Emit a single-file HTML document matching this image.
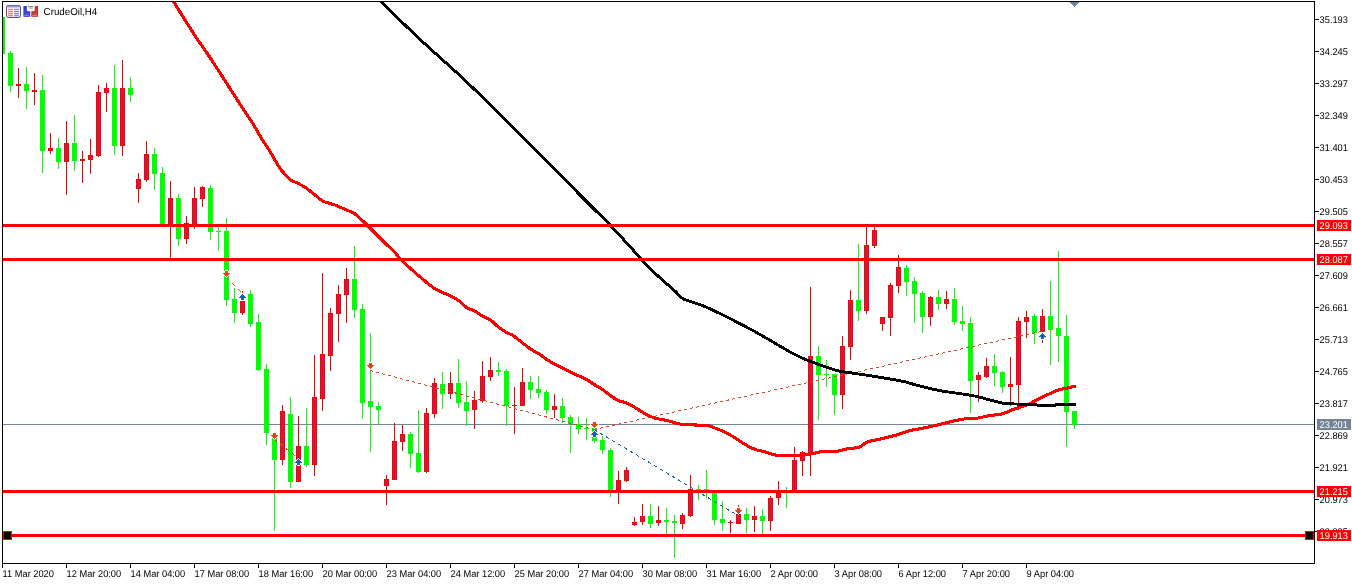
<!DOCTYPE html>
<html><head><meta charset="utf-8"><title>CrudeOil,H4</title>
<style>
html,body{margin:0;padding:0;background:#fff;}
body{width:1352px;height:584px;overflow:hidden;font-family:"Liberation Sans",sans-serif;}
svg{display:block;position:absolute;left:0;top:0;will-change:transform;}
.ax{font-family:"Liberation Sans",sans-serif;font-size:9.8px;text-rendering:geometricPrecision;}
.tt{font-family:"Liberation Sans",sans-serif;font-size:10px;text-rendering:geometricPrecision;}
</style></head><body>
<svg width="1352" height="584" viewBox="0 0 1352 584">
<rect x="0" y="0" width="1352" height="584" fill="#fff"/>
<defs><clipPath id="cp"><rect x="3" y="2" width="1311" height="561"/></clipPath></defs>
<g clip-path="url(#cp)">
<!-- bid line -->
<rect x="3" y="424" width="1311" height="1" fill="#738499" shape-rendering="crispEdges"/>
<g shape-rendering="crispEdges">
<rect x="3" y="17" width="2" height="37" fill="#00ff00"/>
<rect x="10" y="51" width="1" height="41" fill="#00ff00"/>
<rect x="8" y="53" width="5" height="33" fill="#00ff00"/>
<rect x="18" y="68" width="1" height="30" fill="#ff0000"/>
<rect x="16" y="84" width="5" height="2" fill="#ff0000"/>
<rect x="26" y="67" width="1" height="42" fill="#00ff00"/>
<rect x="24" y="84" width="5" height="7" fill="#00ff00"/>
<rect x="34" y="73" width="1" height="32" fill="#ff0000"/>
<rect x="32" y="90" width="5" height="2" fill="#ff0000"/>
<rect x="42" y="75" width="1" height="98" fill="#00ff00"/>
<rect x="40" y="90" width="5" height="61" fill="#00ff00"/>
<rect x="50" y="133" width="1" height="21" fill="#ff0000"/>
<rect x="48" y="148" width="5" height="3" fill="#ff0000"/>
<rect x="49" y="149" width="3" height="1" fill="#dc143c"/>
<rect x="58" y="138" width="1" height="31" fill="#00ff00"/>
<rect x="56" y="148" width="5" height="14" fill="#00ff00"/>
<rect x="66" y="121" width="1" height="74" fill="#ff0000"/>
<rect x="64" y="143" width="5" height="19" fill="#ff0000"/>
<rect x="65" y="144" width="3" height="17" fill="#dc143c"/>
<rect x="74" y="115" width="1" height="56" fill="#00ff00"/>
<rect x="72" y="143" width="5" height="18" fill="#00ff00"/>
<rect x="82" y="151" width="1" height="32" fill="#ff0000"/>
<rect x="80" y="159" width="5" height="2" fill="#ff0000"/>
<rect x="90" y="139" width="1" height="35" fill="#ff0000"/>
<rect x="88" y="155" width="5" height="5" fill="#ff0000"/>
<rect x="89" y="156" width="3" height="3" fill="#dc143c"/>
<rect x="98" y="85" width="1" height="72" fill="#ff0000"/>
<rect x="96" y="92" width="5" height="64" fill="#ff0000"/>
<rect x="97" y="93" width="3" height="62" fill="#dc143c"/>
<rect x="106" y="83" width="1" height="29" fill="#ff0000"/>
<rect x="104" y="88" width="5" height="5" fill="#ff0000"/>
<rect x="105" y="89" width="3" height="3" fill="#dc143c"/>
<rect x="114" y="65" width="1" height="90" fill="#00ff00"/>
<rect x="112" y="88" width="5" height="58" fill="#00ff00"/>
<rect x="122" y="60" width="1" height="96" fill="#ff0000"/>
<rect x="120" y="88" width="5" height="58" fill="#ff0000"/>
<rect x="121" y="89" width="3" height="56" fill="#dc143c"/>
<rect x="130" y="77" width="1" height="25" fill="#00ff00"/>
<rect x="128" y="88" width="5" height="7" fill="#00ff00"/>
<rect x="138" y="173" width="1" height="30" fill="#ff0000"/>
<rect x="136" y="179" width="5" height="10" fill="#ff0000"/>
<rect x="137" y="180" width="3" height="8" fill="#dc143c"/>
<rect x="146" y="141" width="1" height="41" fill="#ff0000"/>
<rect x="144" y="154" width="5" height="26" fill="#ff0000"/>
<rect x="145" y="155" width="3" height="24" fill="#dc143c"/>
<rect x="154" y="148" width="1" height="42" fill="#00ff00"/>
<rect x="152" y="154" width="5" height="20" fill="#00ff00"/>
<rect x="162" y="167" width="1" height="58" fill="#00ff00"/>
<rect x="160" y="173" width="5" height="52" fill="#00ff00"/>
<rect x="170" y="181" width="1" height="77" fill="#ff0000"/>
<rect x="168" y="198" width="5" height="27" fill="#ff0000"/>
<rect x="169" y="199" width="3" height="25" fill="#dc143c"/>
<rect x="178" y="194" width="1" height="52" fill="#00ff00"/>
<rect x="176" y="198" width="5" height="41" fill="#00ff00"/>
<rect x="186" y="216" width="1" height="28" fill="#ff0000"/>
<rect x="184" y="223" width="5" height="16" fill="#ff0000"/>
<rect x="185" y="224" width="3" height="14" fill="#dc143c"/>
<rect x="194" y="187" width="1" height="42" fill="#ff0000"/>
<rect x="192" y="198" width="5" height="27" fill="#ff0000"/>
<rect x="193" y="199" width="3" height="25" fill="#dc143c"/>
<rect x="202" y="186" width="1" height="21" fill="#ff0000"/>
<rect x="200" y="187" width="5" height="12" fill="#ff0000"/>
<rect x="201" y="188" width="3" height="10" fill="#dc143c"/>
<rect x="210" y="185" width="1" height="55" fill="#00ff00"/>
<rect x="208" y="188" width="5" height="44" fill="#00ff00"/>
<rect x="218" y="227" width="1" height="24" fill="#00ff00"/>
<rect x="216" y="231" width="5" height="1" fill="#00ff00"/>
<rect x="226" y="218" width="1" height="88" fill="#00ff00"/>
<rect x="224" y="231" width="5" height="69" fill="#00ff00"/>
<rect x="234" y="288" width="1" height="35" fill="#00ff00"/>
<rect x="232" y="299" width="5" height="14" fill="#00ff00"/>
<rect x="242" y="291" width="1" height="24" fill="#ff0000"/>
<rect x="240" y="301" width="5" height="12" fill="#ff0000"/>
<rect x="241" y="302" width="3" height="10" fill="#dc143c"/>
<rect x="250" y="290" width="1" height="37" fill="#00ff00"/>
<rect x="248" y="294" width="5" height="30" fill="#00ff00"/>
<rect x="258" y="314" width="1" height="57" fill="#00ff00"/>
<rect x="256" y="322" width="5" height="48" fill="#00ff00"/>
<rect x="266" y="364" width="1" height="81" fill="#00ff00"/>
<rect x="264" y="369" width="5" height="64" fill="#00ff00"/>
<rect x="274" y="433" width="1" height="98" fill="#00ff00"/>
<rect x="272" y="438" width="5" height="22" fill="#00ff00"/>
<rect x="282" y="405" width="1" height="60" fill="#ff0000"/>
<rect x="280" y="411" width="5" height="49" fill="#ff0000"/>
<rect x="281" y="412" width="3" height="47" fill="#dc143c"/>
<rect x="290" y="397" width="1" height="91" fill="#00ff00"/>
<rect x="288" y="414" width="5" height="68" fill="#00ff00"/>
<rect x="298" y="416" width="1" height="66" fill="#ff0000"/>
<rect x="296" y="446" width="5" height="36" fill="#ff0000"/>
<rect x="297" y="447" width="3" height="34" fill="#dc143c"/>
<rect x="306" y="408" width="1" height="59" fill="#00ff00"/>
<rect x="304" y="446" width="5" height="19" fill="#00ff00"/>
<rect x="314" y="355" width="1" height="121" fill="#ff0000"/>
<rect x="312" y="397" width="5" height="68" fill="#ff0000"/>
<rect x="313" y="398" width="3" height="66" fill="#dc143c"/>
<rect x="322" y="273" width="1" height="138" fill="#ff0000"/>
<rect x="320" y="354" width="5" height="45" fill="#ff0000"/>
<rect x="321" y="355" width="3" height="43" fill="#dc143c"/>
<rect x="330" y="308" width="1" height="63" fill="#ff0000"/>
<rect x="328" y="313" width="5" height="43" fill="#ff0000"/>
<rect x="329" y="314" width="3" height="41" fill="#dc143c"/>
<rect x="338" y="285" width="1" height="57" fill="#ff0000"/>
<rect x="336" y="294" width="5" height="20" fill="#ff0000"/>
<rect x="337" y="295" width="3" height="18" fill="#dc143c"/>
<rect x="346" y="268" width="1" height="55" fill="#ff0000"/>
<rect x="344" y="279" width="5" height="16" fill="#ff0000"/>
<rect x="345" y="280" width="3" height="14" fill="#dc143c"/>
<rect x="354" y="246" width="1" height="72" fill="#00ff00"/>
<rect x="352" y="279" width="5" height="31" fill="#00ff00"/>
<rect x="362" y="304" width="1" height="115" fill="#00ff00"/>
<rect x="360" y="309" width="5" height="94" fill="#00ff00"/>
<rect x="370" y="333" width="1" height="119" fill="#00ff00"/>
<rect x="368" y="401" width="5" height="6" fill="#00ff00"/>
<rect x="378" y="402" width="1" height="22" fill="#00ff00"/>
<rect x="376" y="406" width="5" height="4" fill="#00ff00"/>
<rect x="386" y="475" width="1" height="30" fill="#ff0000"/>
<rect x="384" y="479" width="5" height="7" fill="#ff0000"/>
<rect x="385" y="480" width="3" height="5" fill="#dc143c"/>
<rect x="394" y="423" width="1" height="57" fill="#ff0000"/>
<rect x="392" y="441" width="5" height="39" fill="#ff0000"/>
<rect x="393" y="442" width="3" height="37" fill="#dc143c"/>
<rect x="402" y="425" width="1" height="26" fill="#ff0000"/>
<rect x="400" y="434" width="5" height="8" fill="#ff0000"/>
<rect x="401" y="435" width="3" height="6" fill="#dc143c"/>
<rect x="410" y="432" width="1" height="36" fill="#00ff00"/>
<rect x="408" y="434" width="5" height="20" fill="#00ff00"/>
<rect x="418" y="410" width="1" height="63" fill="#00ff00"/>
<rect x="416" y="453" width="5" height="19" fill="#00ff00"/>
<rect x="426" y="408" width="1" height="65" fill="#ff0000"/>
<rect x="424" y="413" width="5" height="59" fill="#ff0000"/>
<rect x="425" y="414" width="3" height="57" fill="#dc143c"/>
<rect x="434" y="378" width="1" height="40" fill="#ff0000"/>
<rect x="432" y="383" width="5" height="31" fill="#ff0000"/>
<rect x="433" y="384" width="3" height="29" fill="#dc143c"/>
<rect x="442" y="372" width="1" height="37" fill="#00ff00"/>
<rect x="440" y="384" width="5" height="10" fill="#00ff00"/>
<rect x="450" y="372" width="1" height="27" fill="#ff0000"/>
<rect x="448" y="383" width="5" height="11" fill="#ff0000"/>
<rect x="449" y="384" width="3" height="9" fill="#dc143c"/>
<rect x="458" y="359" width="1" height="49" fill="#00ff00"/>
<rect x="456" y="383" width="5" height="20" fill="#00ff00"/>
<rect x="466" y="381" width="1" height="45" fill="#00ff00"/>
<rect x="464" y="402" width="5" height="9" fill="#00ff00"/>
<rect x="474" y="391" width="1" height="38" fill="#ff0000"/>
<rect x="472" y="400" width="5" height="10" fill="#ff0000"/>
<rect x="473" y="401" width="3" height="8" fill="#dc143c"/>
<rect x="482" y="361" width="1" height="42" fill="#ff0000"/>
<rect x="480" y="376" width="5" height="25" fill="#ff0000"/>
<rect x="481" y="377" width="3" height="23" fill="#dc143c"/>
<rect x="490" y="357" width="1" height="24" fill="#ff0000"/>
<rect x="488" y="370" width="5" height="7" fill="#ff0000"/>
<rect x="489" y="371" width="3" height="5" fill="#dc143c"/>
<rect x="498" y="362" width="1" height="14" fill="#00ff00"/>
<rect x="496" y="370" width="5" height="2" fill="#00ff00"/>
<rect x="506" y="369" width="1" height="57" fill="#00ff00"/>
<rect x="504" y="371" width="5" height="35" fill="#00ff00"/>
<rect x="514" y="387" width="1" height="47" fill="#ff0000"/>
<rect x="512" y="405" width="5" height="1" fill="#ff0000"/>
<rect x="522" y="368" width="1" height="38" fill="#ff0000"/>
<rect x="520" y="382" width="5" height="24" fill="#ff0000"/>
<rect x="521" y="383" width="3" height="22" fill="#dc143c"/>
<rect x="530" y="376" width="1" height="23" fill="#00ff00"/>
<rect x="528" y="382" width="5" height="8" fill="#00ff00"/>
<rect x="538" y="376" width="1" height="22" fill="#00ff00"/>
<rect x="536" y="389" width="5" height="4" fill="#00ff00"/>
<rect x="546" y="390" width="1" height="24" fill="#00ff00"/>
<rect x="544" y="392" width="5" height="18" fill="#00ff00"/>
<rect x="554" y="394" width="1" height="24" fill="#ff0000"/>
<rect x="552" y="406" width="5" height="4" fill="#ff0000"/>
<rect x="553" y="407" width="3" height="2" fill="#dc143c"/>
<rect x="562" y="398" width="1" height="25" fill="#00ff00"/>
<rect x="560" y="406" width="5" height="12" fill="#00ff00"/>
<rect x="570" y="415" width="1" height="38" fill="#00ff00"/>
<rect x="568" y="417" width="5" height="7" fill="#00ff00"/>
<rect x="578" y="417" width="1" height="17" fill="#00ff00"/>
<rect x="576" y="424" width="5" height="5" fill="#00ff00"/>
<rect x="586" y="418" width="1" height="22" fill="#00ff00"/>
<rect x="584" y="428" width="5" height="1" fill="#00ff00"/>
<rect x="594" y="426" width="1" height="17" fill="#00ff00"/>
<rect x="592" y="428" width="5" height="13" fill="#00ff00"/>
<rect x="602" y="436" width="1" height="18" fill="#00ff00"/>
<rect x="600" y="440" width="5" height="10" fill="#00ff00"/>
<rect x="610" y="448" width="1" height="49" fill="#00ff00"/>
<rect x="608" y="450" width="5" height="41" fill="#00ff00"/>
<rect x="618" y="471" width="1" height="33" fill="#ff0000"/>
<rect x="616" y="480" width="5" height="11" fill="#ff0000"/>
<rect x="617" y="481" width="3" height="9" fill="#dc143c"/>
<rect x="626" y="467" width="1" height="15" fill="#ff0000"/>
<rect x="624" y="470" width="5" height="11" fill="#ff0000"/>
<rect x="625" y="471" width="3" height="9" fill="#dc143c"/>
<rect x="634" y="517" width="1" height="9" fill="#ff0000"/>
<rect x="632" y="522" width="5" height="3" fill="#ff0000"/>
<rect x="633" y="523" width="3" height="1" fill="#dc143c"/>
<rect x="642" y="504" width="1" height="21" fill="#ff0000"/>
<rect x="640" y="516" width="5" height="6" fill="#ff0000"/>
<rect x="641" y="517" width="3" height="4" fill="#dc143c"/>
<rect x="650" y="504" width="1" height="24" fill="#00ff00"/>
<rect x="648" y="516" width="5" height="8" fill="#00ff00"/>
<rect x="658" y="506" width="1" height="20" fill="#ff0000"/>
<rect x="656" y="520" width="5" height="3" fill="#ff0000"/>
<rect x="657" y="521" width="3" height="1" fill="#dc143c"/>
<rect x="666" y="508" width="1" height="30" fill="#00ff00"/>
<rect x="664" y="520" width="5" height="2" fill="#00ff00"/>
<rect x="674" y="515" width="1" height="43" fill="#00ff00"/>
<rect x="672" y="521" width="5" height="2" fill="#00ff00"/>
<rect x="682" y="513" width="1" height="16" fill="#ff0000"/>
<rect x="680" y="515" width="5" height="9" fill="#ff0000"/>
<rect x="681" y="516" width="3" height="7" fill="#dc143c"/>
<rect x="690" y="475" width="1" height="42" fill="#ff0000"/>
<rect x="688" y="489" width="5" height="27" fill="#ff0000"/>
<rect x="689" y="490" width="3" height="25" fill="#dc143c"/>
<rect x="698" y="485" width="1" height="15" fill="#00ff00"/>
<rect x="696" y="489" width="5" height="2" fill="#00ff00"/>
<rect x="706" y="470" width="1" height="28" fill="#00ff00"/>
<rect x="704" y="489" width="5" height="2" fill="#00ff00"/>
<rect x="714" y="492" width="1" height="33" fill="#00ff00"/>
<rect x="712" y="492" width="5" height="28" fill="#00ff00"/>
<rect x="722" y="501" width="1" height="30" fill="#00ff00"/>
<rect x="720" y="519" width="5" height="4" fill="#00ff00"/>
<rect x="730" y="520" width="1" height="13" fill="#ff0000"/>
<rect x="728" y="522" width="5" height="1" fill="#ff0000"/>
<rect x="738" y="505" width="1" height="19" fill="#ff0000"/>
<rect x="736" y="514" width="5" height="10" fill="#ff0000"/>
<rect x="737" y="515" width="3" height="8" fill="#dc143c"/>
<rect x="746" y="508" width="1" height="25" fill="#00ff00"/>
<rect x="744" y="514" width="5" height="6" fill="#00ff00"/>
<rect x="754" y="506" width="1" height="26" fill="#ff0000"/>
<rect x="752" y="516" width="5" height="4" fill="#ff0000"/>
<rect x="753" y="517" width="3" height="2" fill="#dc143c"/>
<rect x="762" y="509" width="1" height="25" fill="#00ff00"/>
<rect x="760" y="516" width="5" height="5" fill="#00ff00"/>
<rect x="770" y="496" width="1" height="35" fill="#ff0000"/>
<rect x="768" y="498" width="5" height="23" fill="#ff0000"/>
<rect x="769" y="499" width="3" height="21" fill="#dc143c"/>
<rect x="778" y="481" width="1" height="24" fill="#ff0000"/>
<rect x="776" y="490" width="5" height="8" fill="#ff0000"/>
<rect x="777" y="491" width="3" height="6" fill="#dc143c"/>
<rect x="786" y="487" width="1" height="21" fill="#00ff00"/>
<rect x="784" y="490" width="5" height="2" fill="#00ff00"/>
<rect x="794" y="447" width="1" height="44" fill="#ff0000"/>
<rect x="792" y="460" width="5" height="31" fill="#ff0000"/>
<rect x="793" y="461" width="3" height="29" fill="#dc143c"/>
<rect x="802" y="451" width="1" height="25" fill="#ff0000"/>
<rect x="800" y="452" width="5" height="9" fill="#ff0000"/>
<rect x="801" y="453" width="3" height="7" fill="#dc143c"/>
<rect x="810" y="287" width="1" height="189" fill="#ff0000"/>
<rect x="808" y="356" width="5" height="98" fill="#ff0000"/>
<rect x="809" y="357" width="3" height="96" fill="#dc143c"/>
<rect x="818" y="346" width="1" height="74" fill="#00ff00"/>
<rect x="816" y="356" width="5" height="19" fill="#00ff00"/>
<rect x="826" y="360" width="1" height="27" fill="#00ff00"/>
<rect x="824" y="374" width="5" height="1" fill="#00ff00"/>
<rect x="834" y="374" width="1" height="41" fill="#00ff00"/>
<rect x="832" y="374" width="5" height="21" fill="#00ff00"/>
<rect x="842" y="336" width="1" height="73" fill="#ff0000"/>
<rect x="840" y="346" width="5" height="49" fill="#ff0000"/>
<rect x="841" y="347" width="3" height="47" fill="#dc143c"/>
<rect x="850" y="290" width="1" height="70" fill="#ff0000"/>
<rect x="848" y="300" width="5" height="47" fill="#ff0000"/>
<rect x="849" y="301" width="3" height="45" fill="#dc143c"/>
<rect x="858" y="244" width="1" height="77" fill="#00ff00"/>
<rect x="856" y="300" width="5" height="11" fill="#00ff00"/>
<rect x="866" y="227" width="1" height="87" fill="#ff0000"/>
<rect x="864" y="245" width="5" height="66" fill="#ff0000"/>
<rect x="865" y="246" width="3" height="64" fill="#dc143c"/>
<rect x="874" y="227" width="1" height="21" fill="#ff0000"/>
<rect x="872" y="230" width="5" height="16" fill="#ff0000"/>
<rect x="873" y="231" width="3" height="14" fill="#dc143c"/>
<rect x="882" y="317" width="1" height="14" fill="#ff0000"/>
<rect x="880" y="317" width="5" height="7" fill="#ff0000"/>
<rect x="881" y="318" width="3" height="5" fill="#dc143c"/>
<rect x="890" y="283" width="1" height="53" fill="#ff0000"/>
<rect x="888" y="285" width="5" height="33" fill="#ff0000"/>
<rect x="889" y="286" width="3" height="31" fill="#dc143c"/>
<rect x="898" y="255" width="1" height="38" fill="#ff0000"/>
<rect x="896" y="267" width="5" height="19" fill="#ff0000"/>
<rect x="897" y="268" width="3" height="17" fill="#dc143c"/>
<rect x="906" y="265" width="1" height="31" fill="#00ff00"/>
<rect x="904" y="268" width="5" height="14" fill="#00ff00"/>
<rect x="914" y="277" width="1" height="46" fill="#00ff00"/>
<rect x="912" y="281" width="5" height="13" fill="#00ff00"/>
<rect x="922" y="291" width="1" height="42" fill="#00ff00"/>
<rect x="920" y="293" width="5" height="24" fill="#00ff00"/>
<rect x="930" y="296" width="1" height="30" fill="#ff0000"/>
<rect x="928" y="297" width="5" height="20" fill="#ff0000"/>
<rect x="929" y="298" width="3" height="18" fill="#dc143c"/>
<rect x="938" y="290" width="1" height="20" fill="#00ff00"/>
<rect x="936" y="297" width="5" height="7" fill="#00ff00"/>
<rect x="946" y="291" width="1" height="18" fill="#ff0000"/>
<rect x="944" y="299" width="5" height="5" fill="#ff0000"/>
<rect x="945" y="300" width="3" height="3" fill="#dc143c"/>
<rect x="954" y="288" width="1" height="37" fill="#00ff00"/>
<rect x="952" y="299" width="5" height="23" fill="#00ff00"/>
<rect x="962" y="306" width="1" height="25" fill="#00ff00"/>
<rect x="960" y="321" width="5" height="3" fill="#00ff00"/>
<rect x="970" y="317" width="1" height="96" fill="#00ff00"/>
<rect x="968" y="323" width="5" height="58" fill="#00ff00"/>
<rect x="978" y="372" width="1" height="30" fill="#ff0000"/>
<rect x="976" y="375" width="5" height="5" fill="#ff0000"/>
<rect x="977" y="376" width="3" height="3" fill="#dc143c"/>
<rect x="986" y="358" width="1" height="20" fill="#ff0000"/>
<rect x="984" y="366" width="5" height="11" fill="#ff0000"/>
<rect x="985" y="367" width="3" height="9" fill="#dc143c"/>
<rect x="994" y="354" width="1" height="32" fill="#00ff00"/>
<rect x="992" y="366" width="5" height="7" fill="#00ff00"/>
<rect x="1002" y="371" width="1" height="22" fill="#00ff00"/>
<rect x="1000" y="372" width="5" height="15" fill="#00ff00"/>
<rect x="1010" y="357" width="1" height="49" fill="#ff0000"/>
<rect x="1008" y="384" width="5" height="3" fill="#ff0000"/>
<rect x="1009" y="385" width="3" height="1" fill="#dc143c"/>
<rect x="1018" y="317" width="1" height="93" fill="#ff0000"/>
<rect x="1016" y="321" width="5" height="64" fill="#ff0000"/>
<rect x="1017" y="322" width="3" height="62" fill="#dc143c"/>
<rect x="1026" y="311" width="1" height="27" fill="#ff0000"/>
<rect x="1024" y="317" width="5" height="5" fill="#ff0000"/>
<rect x="1025" y="318" width="3" height="3" fill="#dc143c"/>
<rect x="1034" y="314" width="1" height="30" fill="#00ff00"/>
<rect x="1032" y="316" width="5" height="17" fill="#00ff00"/>
<rect x="1042" y="309" width="1" height="34" fill="#ff0000"/>
<rect x="1040" y="316" width="5" height="16" fill="#ff0000"/>
<rect x="1041" y="317" width="3" height="14" fill="#dc143c"/>
<rect x="1050" y="281" width="1" height="84" fill="#00ff00"/>
<rect x="1048" y="316" width="5" height="14" fill="#00ff00"/>
<rect x="1058" y="251" width="1" height="111" fill="#00ff00"/>
<rect x="1056" y="328" width="5" height="8" fill="#00ff00"/>
<rect x="1066" y="315" width="1" height="132" fill="#00ff00"/>
<rect x="1064" y="336" width="5" height="76" fill="#00ff00"/>
<rect x="1074" y="411" width="1" height="18" fill="#00ff00"/>
<rect x="1072" y="411" width="5" height="14" fill="#00ff00"/>
</g>
<!-- trade lines -->
<g fill="none" stroke-width="1" shape-rendering="crispEdges">
<line x1="226" y1="277" x2="242" y2="293" stroke="#e0441c" stroke-dasharray="4.2,4.2"/>
<line x1="274" y1="439" x2="298" y2="458" stroke="#e0441c" stroke-dasharray="3.8,3.8"/>
<line x1="370" y1="370.5" x2="594" y2="429.5" stroke="#e0441c" stroke-dasharray="3.1,3.1"/>
<line x1="594" y1="429.5" x2="1041" y2="331.5" stroke="#e0441c" stroke-dasharray="3.07,3.07"/>
<line x1="594" y1="429.5" x2="737" y2="515" stroke="#1560b0" stroke-dasharray="3.5,3.5"/>
</g>
<!-- moving averages -->
<path d="M171.2,-2C171.62,-1.35 171.45,-1.77 173.75,1.9C176.05,5.57 181.25,14.07 185,20C188.75,25.93 192.50,31.88 196.25,37.5C200.00,43.12 203.64,48.02 207.5,53.75C211.36,59.48 215.44,65.78 219.4,71.9C223.36,78.03 227.40,84.48 231.25,90.5C235.10,96.52 238.96,102.58 242.5,108C246.04,113.42 249.17,117.67 252.5,123C255.83,128.33 259.79,135.60 262.5,140C265.21,144.40 266.67,146.07 268.75,149.4C270.83,152.73 272.92,156.57 275,160C277.08,163.43 278.75,166.77 281.25,170C283.75,173.23 287.29,177.22 290,179.4C292.71,181.58 294.79,181.65 297.5,183.1C300.21,184.55 303.33,186.12 306.25,188.1C309.17,190.08 312.19,192.81 315,195C317.81,197.19 319.77,199.58 323.1,201.25C326.43,202.92 331.35,203.64 335,205C338.65,206.36 341.67,207.90 345,209.4C348.33,210.90 351.46,211.50 355,214C358.54,216.50 361.88,220.17 366.25,224.4C370.62,228.63 376.56,234.82 381.25,239.4C385.94,243.98 391.07,248.47 394.4,251.9C397.73,255.33 397.82,256.57 401.25,260C404.68,263.43 411.88,269.68 415,272.5C418.12,275.32 416.67,274.19 420,276.9C423.33,279.61 430.00,285.63 435,288.75C440.00,291.87 446.04,293.62 450,295.6C453.96,297.58 456.04,298.66 458.75,300.6C461.46,302.54 463.54,305.48 466.25,307.25C468.96,309.02 472.29,309.75 475,311.25C477.71,312.75 479.90,314.79 482.5,316.25C485.10,317.71 488.10,318.33 490.6,320C493.10,321.67 494.89,324.21 497.5,326.25C500.11,328.29 503.75,330.75 506.25,332.25C508.75,333.75 510.00,333.64 512.5,335.25C515.00,336.86 518.33,339.65 521.25,341.9C524.17,344.15 527.08,346.77 530,348.75C532.92,350.73 535.83,351.88 538.75,353.75C541.67,355.62 544.58,358.12 547.5,360C550.42,361.88 552.29,362.92 556.25,365C560.21,367.08 566.25,370.10 571.25,372.5C576.25,374.90 582.29,377.32 586.25,379.4C590.21,381.48 592.29,383.33 595,385C597.71,386.67 599.79,387.52 602.5,389.4C605.21,391.27 608.54,394.38 611.25,396.25C613.96,398.12 616.46,399.56 618.75,400.6C621.04,401.64 622.29,401.35 625,402.5C627.71,403.65 631.67,405.62 635,407.5C638.33,409.38 641.67,411.98 645,413.75C648.33,415.52 651.25,416.96 655,418.1C658.75,419.24 663.33,419.62 667.5,420.6C671.67,421.58 675.42,423.27 680,424C684.58,424.73 690.42,424.73 695,425C699.58,425.27 703.33,424.77 707.5,425.6C711.67,426.43 715.83,428.23 720,430C724.17,431.77 728.33,433.85 732.5,436.25C736.67,438.65 741.25,442.21 745,444.4C748.75,446.59 751.67,448.15 755,449.4C758.33,450.65 761.46,450.92 765,451.9C768.54,452.88 772.29,454.63 776.25,455.25C780.21,455.87 784.62,455.64 788.75,455.6C792.88,455.56 797.04,455.31 801,455C804.96,454.69 808.92,454.33 812.5,453.75C816.08,453.17 818.33,451.92 822.5,451.5C826.67,451.08 833.33,451.71 837.5,451.25C841.67,450.79 843.96,449.42 847.5,448.75C851.04,448.08 855.42,448.39 858.75,447.25C862.08,446.11 864.17,443.21 867.5,441.9C870.83,440.59 873.75,440.59 878.75,439.4C883.75,438.21 892.29,436.22 897.5,434.75C902.71,433.28 904.79,431.89 910,430.6C915.21,429.31 920.21,428.87 928.75,427C937.29,425.13 953.75,420.77 961.25,419.4C968.75,418.02 968.96,419.38 973.75,418.75C978.54,418.12 985.21,416.43 990,415.6C994.79,414.77 998.33,414.89 1002.5,413.75C1006.67,412.61 1010.83,410.25 1015,408.75C1019.17,407.25 1023.33,406.52 1027.5,404.75C1031.67,402.98 1035.83,400.14 1040,398.1C1044.17,396.06 1049.38,393.85 1052.5,392.5C1055.62,391.15 1054.83,391.07 1058.75,390C1062.67,388.93 1073.12,386.75 1076,386.1" fill="none" stroke="#ff0000" stroke-width="3.1" stroke-linejoin="round" shape-rendering="crispEdges"/>
<path d="M380.5,1C386.75,7.08 405.08,25.38 418,37.5C430.92,49.62 448.71,65.21 458,73.75C467.29,82.29 467.90,83.12 473.75,88.75C479.60,94.38 483.49,97.96 493.1,107.5C502.71,117.04 516.00,130.50 531.4,146C546.80,161.50 572.32,187.25 585.5,200.5C598.68,213.75 602.42,217.08 610.5,225.5C618.58,233.92 628.79,245.29 634,251C639.21,256.71 637.75,255.58 641.75,259.75C645.75,263.92 652.38,270.71 658,276C663.62,281.29 671.25,287.67 675.5,291.5C679.75,295.33 678.42,296.42 683.5,299C688.58,301.58 694.75,301.92 706,307C717.25,312.08 737.00,322.02 751,329.5C765.00,336.98 781.42,347.13 790,351.9C798.58,356.67 798.33,356.23 802.5,358.1C806.67,359.97 810.83,361.53 815,363.1C819.17,364.67 823.33,366.14 827.5,367.5C831.67,368.86 835.83,370.32 840,371.25C844.17,372.18 846.25,372.16 852.5,373.1C858.75,374.04 869.17,375.54 877.5,376.9C885.83,378.26 896.25,379.94 902.5,381.25C908.75,382.56 910.83,383.62 915,384.75C919.17,385.88 923.33,387.02 927.5,388C931.67,388.98 935.83,389.83 940,390.6C944.17,391.37 948.33,391.97 952.5,392.6C956.67,393.23 960.83,393.73 965,394.4C969.17,395.07 973.33,395.67 977.5,396.6C981.67,397.53 985.83,398.92 990,400C994.17,401.08 998.33,402.43 1002.5,403.1C1006.67,403.77 1009.79,403.78 1015,404C1020.21,404.22 1029.58,404.13 1033.75,404.4C1037.92,404.67 1036.67,405.40 1040,405.6C1043.33,405.80 1050.75,405.80 1053.75,405.6C1056.75,405.40 1054.29,404.60 1058,404.4C1061.71,404.20 1073.00,404.40 1076,404.4" fill="none" stroke="#000" stroke-width="2.9" stroke-linejoin="round" shape-rendering="crispEdges"/>
<!-- horizontal levels -->
<g shape-rendering="crispEdges">
<rect x="3" y="224" width="1311" height="3" fill="#ff0000"/>
<rect x="3" y="258" width="1311" height="3" fill="#ff0000"/>
<rect x="3" y="490" width="1311" height="3" fill="#ff0000"/>
<rect x="3" y="534" width="1311" height="3" fill="#ff0000"/>
</g>
<!-- arrows -->
<g shape-rendering="crispEdges"><rect x="224" y="271" width="5" height="1" fill="#fff"/><rect x="225" y="270" width="3" height="3" fill="#fff"/><rect x="224" y="272" width="5" height="1" fill="#fff"/><rect x="225" y="271" width="3" height="3" fill="#fff"/><rect x="222" y="273" width="9" height="1" fill="#fff"/><rect x="223" y="272" width="7" height="3" fill="#fff"/><rect x="223" y="274" width="7" height="1" fill="#fff"/><rect x="224" y="273" width="5" height="3" fill="#fff"/><rect x="224" y="275" width="5" height="1" fill="#fff"/><rect x="225" y="274" width="3" height="3" fill="#fff"/><rect x="225" y="276" width="3" height="1" fill="#fff"/><rect x="226" y="275" width="1" height="3" fill="#fff"/><rect x="225" y="271" width="3" height="1" fill="#e0441c"/><rect x="225" y="272" width="3" height="1" fill="#e0441c"/><rect x="223" y="273" width="7" height="1" fill="#e0441c"/><rect x="224" y="274" width="5" height="1" fill="#e0441c"/><rect x="225" y="275" width="3" height="1" fill="#e0441c"/><rect x="226" y="276" width="1" height="1" fill="#e0441c"/></g>
<g shape-rendering="crispEdges"><rect x="241" y="294" width="3" height="1" fill="#fff"/><rect x="242" y="293" width="1" height="3" fill="#fff"/><rect x="240" y="295" width="5" height="1" fill="#fff"/><rect x="241" y="294" width="3" height="3" fill="#fff"/><rect x="239" y="296" width="7" height="1" fill="#fff"/><rect x="240" y="295" width="5" height="3" fill="#fff"/><rect x="238" y="297" width="9" height="1" fill="#fff"/><rect x="239" y="296" width="7" height="3" fill="#fff"/><rect x="240" y="298" width="5" height="1" fill="#fff"/><rect x="241" y="297" width="3" height="3" fill="#fff"/><rect x="240" y="299" width="5" height="1" fill="#fff"/><rect x="241" y="298" width="3" height="3" fill="#fff"/><rect x="242" y="294" width="1" height="1" fill="#1560b0"/><rect x="241" y="295" width="3" height="1" fill="#1560b0"/><rect x="240" y="296" width="5" height="1" fill="#1560b0"/><rect x="239" y="297" width="7" height="1" fill="#1560b0"/><rect x="241" y="298" width="3" height="1" fill="#1560b0"/><rect x="241" y="299" width="3" height="1" fill="#1560b0"/></g>
<g shape-rendering="crispEdges"><rect x="272" y="433" width="5" height="1" fill="#fff"/><rect x="273" y="432" width="3" height="3" fill="#fff"/><rect x="272" y="434" width="5" height="1" fill="#fff"/><rect x="273" y="433" width="3" height="3" fill="#fff"/><rect x="270" y="435" width="9" height="1" fill="#fff"/><rect x="271" y="434" width="7" height="3" fill="#fff"/><rect x="271" y="436" width="7" height="1" fill="#fff"/><rect x="272" y="435" width="5" height="3" fill="#fff"/><rect x="272" y="437" width="5" height="1" fill="#fff"/><rect x="273" y="436" width="3" height="3" fill="#fff"/><rect x="273" y="438" width="3" height="1" fill="#fff"/><rect x="274" y="437" width="1" height="3" fill="#fff"/><rect x="273" y="433" width="3" height="1" fill="#e0441c"/><rect x="273" y="434" width="3" height="1" fill="#e0441c"/><rect x="271" y="435" width="7" height="1" fill="#e0441c"/><rect x="272" y="436" width="5" height="1" fill="#e0441c"/><rect x="273" y="437" width="3" height="1" fill="#e0441c"/><rect x="274" y="438" width="1" height="1" fill="#e0441c"/></g>
<g shape-rendering="crispEdges"><rect x="297" y="459" width="3" height="1" fill="#fff"/><rect x="298" y="458" width="1" height="3" fill="#fff"/><rect x="296" y="460" width="5" height="1" fill="#fff"/><rect x="297" y="459" width="3" height="3" fill="#fff"/><rect x="295" y="461" width="7" height="1" fill="#fff"/><rect x="296" y="460" width="5" height="3" fill="#fff"/><rect x="294" y="462" width="9" height="1" fill="#fff"/><rect x="295" y="461" width="7" height="3" fill="#fff"/><rect x="296" y="463" width="5" height="1" fill="#fff"/><rect x="297" y="462" width="3" height="3" fill="#fff"/><rect x="296" y="464" width="5" height="1" fill="#fff"/><rect x="297" y="463" width="3" height="3" fill="#fff"/><rect x="298" y="459" width="1" height="1" fill="#1560b0"/><rect x="297" y="460" width="3" height="1" fill="#1560b0"/><rect x="296" y="461" width="5" height="1" fill="#1560b0"/><rect x="295" y="462" width="7" height="1" fill="#1560b0"/><rect x="297" y="463" width="3" height="1" fill="#1560b0"/><rect x="297" y="464" width="3" height="1" fill="#1560b0"/></g>
<g shape-rendering="crispEdges"><rect x="368" y="363" width="5" height="1" fill="#fff"/><rect x="369" y="362" width="3" height="3" fill="#fff"/><rect x="368" y="364" width="5" height="1" fill="#fff"/><rect x="369" y="363" width="3" height="3" fill="#fff"/><rect x="366" y="365" width="9" height="1" fill="#fff"/><rect x="367" y="364" width="7" height="3" fill="#fff"/><rect x="367" y="366" width="7" height="1" fill="#fff"/><rect x="368" y="365" width="5" height="3" fill="#fff"/><rect x="368" y="367" width="5" height="1" fill="#fff"/><rect x="369" y="366" width="3" height="3" fill="#fff"/><rect x="369" y="368" width="3" height="1" fill="#fff"/><rect x="370" y="367" width="1" height="3" fill="#fff"/><rect x="369" y="363" width="3" height="1" fill="#e0441c"/><rect x="369" y="364" width="3" height="1" fill="#e0441c"/><rect x="367" y="365" width="7" height="1" fill="#e0441c"/><rect x="368" y="366" width="5" height="1" fill="#e0441c"/><rect x="369" y="367" width="3" height="1" fill="#e0441c"/><rect x="370" y="368" width="1" height="1" fill="#e0441c"/></g>
<g shape-rendering="crispEdges"><rect x="592" y="422" width="5" height="1" fill="#fff"/><rect x="593" y="421" width="3" height="3" fill="#fff"/><rect x="592" y="423" width="5" height="1" fill="#fff"/><rect x="593" y="422" width="3" height="3" fill="#fff"/><rect x="590" y="424" width="9" height="1" fill="#fff"/><rect x="591" y="423" width="7" height="3" fill="#fff"/><rect x="591" y="425" width="7" height="1" fill="#fff"/><rect x="592" y="424" width="5" height="3" fill="#fff"/><rect x="592" y="426" width="5" height="1" fill="#fff"/><rect x="593" y="425" width="3" height="3" fill="#fff"/><rect x="593" y="427" width="3" height="1" fill="#fff"/><rect x="594" y="426" width="1" height="3" fill="#fff"/><rect x="593" y="422" width="3" height="1" fill="#e0441c"/><rect x="593" y="423" width="3" height="1" fill="#e0441c"/><rect x="591" y="424" width="7" height="1" fill="#e0441c"/><rect x="592" y="425" width="5" height="1" fill="#e0441c"/><rect x="593" y="426" width="3" height="1" fill="#e0441c"/><rect x="594" y="427" width="1" height="1" fill="#e0441c"/></g>
<g shape-rendering="crispEdges"><rect x="593" y="431" width="3" height="1" fill="#fff"/><rect x="594" y="430" width="1" height="3" fill="#fff"/><rect x="592" y="432" width="5" height="1" fill="#fff"/><rect x="593" y="431" width="3" height="3" fill="#fff"/><rect x="591" y="433" width="7" height="1" fill="#fff"/><rect x="592" y="432" width="5" height="3" fill="#fff"/><rect x="590" y="434" width="9" height="1" fill="#fff"/><rect x="591" y="433" width="7" height="3" fill="#fff"/><rect x="592" y="435" width="5" height="1" fill="#fff"/><rect x="593" y="434" width="3" height="3" fill="#fff"/><rect x="592" y="436" width="5" height="1" fill="#fff"/><rect x="593" y="435" width="3" height="3" fill="#fff"/><rect x="594" y="431" width="1" height="1" fill="#1560b0"/><rect x="593" y="432" width="3" height="1" fill="#1560b0"/><rect x="592" y="433" width="5" height="1" fill="#1560b0"/><rect x="591" y="434" width="7" height="1" fill="#1560b0"/><rect x="593" y="435" width="3" height="1" fill="#1560b0"/><rect x="593" y="436" width="3" height="1" fill="#1560b0"/></g>
<g shape-rendering="crispEdges"><rect x="736" y="508" width="5" height="1" fill="#fff"/><rect x="737" y="507" width="3" height="3" fill="#fff"/><rect x="736" y="509" width="5" height="1" fill="#fff"/><rect x="737" y="508" width="3" height="3" fill="#fff"/><rect x="734" y="510" width="9" height="1" fill="#fff"/><rect x="735" y="509" width="7" height="3" fill="#fff"/><rect x="735" y="511" width="7" height="1" fill="#fff"/><rect x="736" y="510" width="5" height="3" fill="#fff"/><rect x="736" y="512" width="5" height="1" fill="#fff"/><rect x="737" y="511" width="3" height="3" fill="#fff"/><rect x="737" y="513" width="3" height="1" fill="#fff"/><rect x="738" y="512" width="1" height="3" fill="#fff"/><rect x="737" y="508" width="3" height="1" fill="#e0441c"/><rect x="737" y="509" width="3" height="1" fill="#e0441c"/><rect x="735" y="510" width="7" height="1" fill="#e0441c"/><rect x="736" y="511" width="5" height="1" fill="#e0441c"/><rect x="737" y="512" width="3" height="1" fill="#e0441c"/><rect x="738" y="513" width="1" height="1" fill="#e0441c"/></g>
<g shape-rendering="crispEdges"><rect x="1041" y="333" width="3" height="1" fill="#fff"/><rect x="1042" y="332" width="1" height="3" fill="#fff"/><rect x="1040" y="334" width="5" height="1" fill="#fff"/><rect x="1041" y="333" width="3" height="3" fill="#fff"/><rect x="1039" y="335" width="7" height="1" fill="#fff"/><rect x="1040" y="334" width="5" height="3" fill="#fff"/><rect x="1038" y="336" width="9" height="1" fill="#fff"/><rect x="1039" y="335" width="7" height="3" fill="#fff"/><rect x="1040" y="337" width="5" height="1" fill="#fff"/><rect x="1041" y="336" width="3" height="3" fill="#fff"/><rect x="1040" y="338" width="5" height="1" fill="#fff"/><rect x="1041" y="337" width="3" height="3" fill="#fff"/><rect x="1042" y="333" width="1" height="1" fill="#1560b0"/><rect x="1041" y="334" width="3" height="1" fill="#1560b0"/><rect x="1040" y="335" width="5" height="1" fill="#1560b0"/><rect x="1039" y="336" width="7" height="1" fill="#1560b0"/><rect x="1041" y="337" width="3" height="1" fill="#1560b0"/><rect x="1041" y="338" width="3" height="1" fill="#1560b0"/></g>
<!-- top marker -->
<g shape-rendering="crispEdges" fill="#718299"><rect x="1070" y="2" width="9" height="1"/><rect x="1071" y="3" width="7" height="1"/><rect x="1072" y="4" width="5" height="1"/><rect x="1073" y="5" width="3" height="1"/><rect x="1074" y="6" width="1" height="1"/></g>
</g>
<!-- frame -->
<g shape-rendering="crispEdges" fill="#000">
<rect x="2" y="1" width="1313" height="1"/>
<rect x="2" y="1" width="1" height="563"/>
<rect x="1314" y="1" width="1" height="563"/>
<rect x="2" y="563" width="1313" height="1"/>
<rect x="1315" y="19" width="4" height="1" fill="#000"/>
<text transform="translate(1319.6,23) scale(0.945,1)" class="ax">35.193</text>
<rect x="1315" y="51" width="4" height="1" fill="#000"/>
<text transform="translate(1319.6,55) scale(0.945,1)" class="ax">34.245</text>
<rect x="1315" y="83" width="4" height="1" fill="#000"/>
<text transform="translate(1319.6,87) scale(0.945,1)" class="ax">33.297</text>
<rect x="1315" y="115" width="4" height="1" fill="#000"/>
<text transform="translate(1319.6,119) scale(0.945,1)" class="ax">32.349</text>
<rect x="1315" y="147" width="4" height="1" fill="#000"/>
<text transform="translate(1319.6,151) scale(0.945,1)" class="ax">31.401</text>
<rect x="1315" y="179" width="4" height="1" fill="#000"/>
<text transform="translate(1319.6,183) scale(0.945,1)" class="ax">30.453</text>
<rect x="1315" y="211" width="4" height="1" fill="#000"/>
<text transform="translate(1319.6,215) scale(0.945,1)" class="ax">29.505</text>
<rect x="1315" y="243" width="4" height="1" fill="#000"/>
<text transform="translate(1319.6,247) scale(0.945,1)" class="ax">28.557</text>
<rect x="1315" y="275" width="4" height="1" fill="#000"/>
<text transform="translate(1319.6,279) scale(0.945,1)" class="ax">27.609</text>
<rect x="1315" y="307" width="4" height="1" fill="#000"/>
<text transform="translate(1319.6,311) scale(0.945,1)" class="ax">26.661</text>
<rect x="1315" y="339" width="4" height="1" fill="#000"/>
<text transform="translate(1319.6,343) scale(0.945,1)" class="ax">25.713</text>
<rect x="1315" y="371" width="4" height="1" fill="#000"/>
<text transform="translate(1319.6,375) scale(0.945,1)" class="ax">24.765</text>
<rect x="1315" y="403" width="4" height="1" fill="#000"/>
<text transform="translate(1319.6,407) scale(0.945,1)" class="ax">23.817</text>
<rect x="1315" y="435" width="4" height="1" fill="#000"/>
<text transform="translate(1319.6,439) scale(0.945,1)" class="ax">22.869</text>
<rect x="1315" y="467" width="4" height="1" fill="#000"/>
<text transform="translate(1319.6,471) scale(0.945,1)" class="ax">21.921</text>
<rect x="1315" y="499" width="4" height="1" fill="#000"/>
<text transform="translate(1319.6,503) scale(0.945,1)" class="ax">20.973</text>
<rect x="1315" y="531" width="4" height="1" fill="#000"/>
<text transform="translate(1319.6,535) scale(0.945,1)" class="ax">20.025</text>
<rect x="2" y="563" width="1" height="5" fill="#000"/>
<text transform="translate(2.6,577) scale(0.945,1)" class="ax">11 Mar 2020</text>
<rect x="66" y="563" width="1" height="5" fill="#000"/>
<text transform="translate(66.6,577) scale(0.945,1)" class="ax">12 Mar 20:00</text>
<rect x="130" y="563" width="1" height="5" fill="#000"/>
<text transform="translate(130.6,577) scale(0.945,1)" class="ax">14 Mar 04:00</text>
<rect x="194" y="563" width="1" height="5" fill="#000"/>
<text transform="translate(194.6,577) scale(0.945,1)" class="ax">17 Mar 08:00</text>
<rect x="258" y="563" width="1" height="5" fill="#000"/>
<text transform="translate(258.6,577) scale(0.945,1)" class="ax">18 Mar 16:00</text>
<rect x="322" y="563" width="1" height="5" fill="#000"/>
<text transform="translate(322.6,577) scale(0.945,1)" class="ax">20 Mar 00:00</text>
<rect x="386" y="563" width="1" height="5" fill="#000"/>
<text transform="translate(386.6,577) scale(0.945,1)" class="ax">23 Mar 04:00</text>
<rect x="450" y="563" width="1" height="5" fill="#000"/>
<text transform="translate(450.6,577) scale(0.945,1)" class="ax">24 Mar 12:00</text>
<rect x="514" y="563" width="1" height="5" fill="#000"/>
<text transform="translate(514.6,577) scale(0.945,1)" class="ax">25 Mar 20:00</text>
<rect x="578" y="563" width="1" height="5" fill="#000"/>
<text transform="translate(578.6,577) scale(0.945,1)" class="ax">27 Mar 04:00</text>
<rect x="642" y="563" width="1" height="5" fill="#000"/>
<text transform="translate(642.6,577) scale(0.945,1)" class="ax">30 Mar 08:00</text>
<rect x="706" y="563" width="1" height="5" fill="#000"/>
<text transform="translate(706.6,577) scale(0.945,1)" class="ax">31 Mar 16:00</text>
<rect x="770" y="563" width="1" height="5" fill="#000"/>
<text transform="translate(770.6,577) scale(0.945,1)" class="ax">2 Apr 00:00</text>
<rect x="834" y="563" width="1" height="5" fill="#000"/>
<text transform="translate(834.6,577) scale(0.945,1)" class="ax">3 Apr 08:00</text>
<rect x="898" y="563" width="1" height="5" fill="#000"/>
<text transform="translate(898.6,577) scale(0.945,1)" class="ax">6 Apr 12:00</text>
<rect x="962" y="563" width="1" height="5" fill="#000"/>
<text transform="translate(962.6,577) scale(0.945,1)" class="ax">7 Apr 20:00</text>
<rect x="1026" y="563" width="1" height="5" fill="#000"/>
<text transform="translate(1026.6,577) scale(0.945,1)" class="ax">9 Apr 04:00</text>
</g>
<!-- selection squares -->
<g shape-rendering="crispEdges">
<rect x="3" y="531" width="9" height="9" fill="#ff0000"/><rect x="4" y="532" width="7" height="7" fill="#000"/>
<rect x="1305" y="531" width="9" height="9" fill="#ff0000"/><rect x="1306" y="532" width="7" height="7" fill="#000"/>
</g>
<!-- price labels -->
<g shape-rendering="crispEdges">
<rect x="1317" y="220" width="34" height="11" fill="#ff0000"/><text transform="translate(1319.6,229) scale(0.945,1)" class="ax" fill="#fff">29.093</text>
<rect x="1317" y="254" width="34" height="11" fill="#ff0000"/><text transform="translate(1319.6,263) scale(0.945,1)" class="ax" fill="#fff">28.087</text>
<rect x="1317" y="419" width="34" height="11" fill="#738499"/><text transform="translate(1319.6,428) scale(0.945,1)" class="ax" fill="#fff">23.201</text>
<rect x="1317" y="486" width="34" height="11" fill="#ff0000"/><text transform="translate(1319.6,495) scale(0.945,1)" class="ax" fill="#fff">21.215</text>
<rect x="1317" y="530" width="34" height="11" fill="#ff0000"/><text transform="translate(1319.6,539) scale(0.945,1)" class="ax" fill="#fff">19.913</text>
</g>
<!-- title icons -->
<g id="icons">
<rect x="6.5" y="5.5" width="14" height="12" rx="1.6" fill="#fff" stroke="#5a5a66" stroke-width="1"/>
<path d="M7,7.6v-0.6a1.2,1.2 0 0 1 1.2,-1.2h10.6a1.2,1.2 0 0 1 1.2,1.2v0.6z" fill="#8a9af6"/>
<rect x="7" y="7.4" width="13" height="0.8" fill="#c4ccfb"/>
<g fill="#ea7a78"><rect x="8" y="8.9" width="5" height="1.3"/><rect x="8" y="11" width="5" height="1.3"/><rect x="8" y="13.1" width="5" height="1.3"/><rect x="8" y="15.1" width="5" height="1.3"/></g>
<g fill="#7c88f4"><rect x="14" y="8.9" width="5" height="1.3"/><rect x="14" y="11" width="5" height="1.3"/><rect x="14" y="13.1" width="5" height="1.3"/><rect x="14" y="15.1" width="5" height="1.3"/></g>
<path d="M24,6.6h2.2v5.2h3.4v4.4h-5.6z" fill="#4450ea" stroke="#2832d8" stroke-width="1.2" stroke-linejoin="round"/>
<rect x="24.2" y="14.9" width="5.2" height="0.9" fill="#8c96f6"/>
<path d="M37.5,6.6h-2.2v5.2h-3.4v4.4h5.6z" fill="#cc4444" stroke="#b83030" stroke-width="1.2" stroke-linejoin="round"/>
<rect x="32.1" y="14.9" width="5.2" height="0.9" fill="#e48a8a"/>
<rect x="28.2" y="6.1" width="5" height="0.9" fill="#707070"/><rect x="28.7" y="7.6" width="4.2" height="0.9" fill="#909090"/>
</g>
<text transform="translate(43.6,15) scale(0.975,1)" class="tt">CrudeOil,H4</text>
</svg>
</body></html>
